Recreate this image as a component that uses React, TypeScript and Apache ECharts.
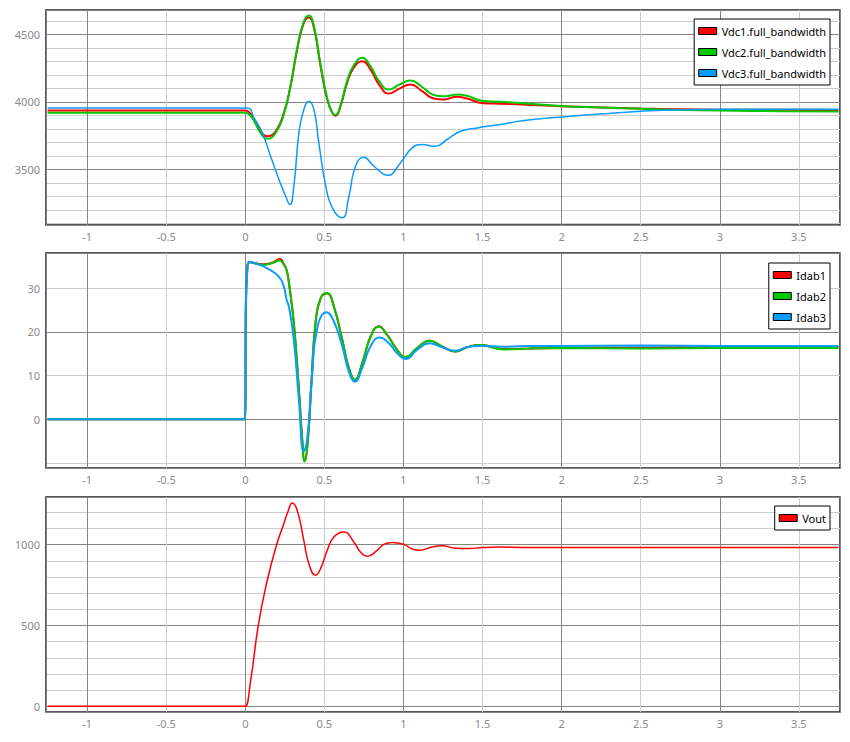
import React, { useEffect, useRef } from "react";
import * as echarts from "echarts";

const FONT = "'Noto Sans', 'DejaVu Sans', sans-serif";
const LABEL_COLOR = "#8a8a8a";
const MAJOR = "#858585";
const MINOR = "#cdcdcd";
const RED = "#ff0000";
const GREEN = "#00c800";
const BLUE = "#0a9bff";

// ---------- axes ----------
const X_MIN = -1.26;
const X_MAX = 3.76;
const xTickLabels = [-1, -0.5, 0, 0.5, 1, 1.5, 2, 2.5, 3, 3.5];
const y1TickLabels = [3500, 4000, 4500];
const y2TickLabels = [0, 10, 20, 30];
const y3TickLabels = [0, 500, 1000];

// ---------- panel 1: DC link voltages ----------
const vdcNames = ["Vdc1.full_bandwidth", "Vdc2.full_bandwidth", "Vdc3.full_bandwidth"];
const vdc12T = [-1.25, 0, 0.03, 0.055, 0.097, 0.139, 0.192, 0.244, 0.286, 0.328, 0.37, 0.402, 0.434, 0.476, 0.518, 0.55, 0.571, 0.602, 0.644, 0.686, 0.739, 0.792, 0.845, 0.908, 0.971, 1.044, 1.118, 1.192, 1.255, 1.339, 1.402, 1.503, 1.613, 1.75, 2.0, 2.25, 2.5, 2.75, 3.0, 3.4, 3.75];
const vdc1V = [3935, 3935, 3915, 3869, 3782, 3745, 3782, 3918, 4116, 4387, 4585, 4625, 4548, 4264, 4017, 3918, 3897, 3968, 4141, 4252, 4301, 4239, 4128, 4061, 4096, 4128, 4079, 4024, 4017, 4037, 4024, 3990, 3986, 3980, 3967, 3958, 3950, 3945, 3942, 3941, 3940];
const vdc2V = [3920, 3920, 3900, 3860, 3770, 3726, 3770, 3910, 4120, 4395, 4595, 4640, 4560, 4275, 4025, 3920, 3903, 3975, 4155, 4270, 4326, 4262, 4155, 4091, 4125, 4158, 4110, 4050, 4041, 4054, 4045, 4006, 4000, 3990, 3970, 3958, 3948, 3940, 3935, 3930, 3928];
const vdc3T = [-1.25, 0.01, 0.055, 0.108, 0.16, 0.213, 0.255, 0.282, 0.307, 0.339, 0.37, 0.402, 0.434, 0.465, 0.507, 0.55, 0.613, 0.655, 0.697, 0.749, 0.813, 0.901, 0.981, 1.055, 1.118, 1.202, 1.276, 1.36, 1.466, 1.613, 1.75, 2.0, 2.25, 2.5, 2.75, 3.0, 3.4, 3.75];
const vdc3V = [3955, 3955, 3881, 3770, 3597, 3425, 3301, 3239, 3375, 3770, 3943, 4004, 3943, 3696, 3387, 3215, 3141, 3301, 3523, 3590, 3523, 3456, 3548, 3659, 3684, 3671, 3721, 3782, 3807, 3832, 3860, 3888, 3911, 3930, 3942, 3946, 3945, 3945];

// ---------- panel 2: DAB currents ----------
const idabNames = ["Idab1", "Idab2", "Idab3"];
const idab12T = [-1.25, 0, 0.003, 0.012, 0.025, 0.055, 0.118, 0.171, 0.219, 0.244, 0.261, 0.276, 0.307, 0.339, 0.36, 0.375, 0.396, 0.419, 0.444, 0.476, 0.518, 0.56, 0.613, 0.655, 0.693, 0.739, 0.792, 0.844, 0.897, 0.96, 1.013, 1.086, 1.166, 1.244, 1.329, 1.402, 1.486, 1.634, 1.8, 2.0, 2.5, 3.0, 3.75];
const idab1V = [0, 0, 24, 34, 36.0, 35.8, 35.5, 35.9, 36.7, 35.5, 34.2, 31.2, 22.0, 6.7, -4.6, -9.5, -4.6, 9.0, 22.0, 27.7, 28.8, 25.8, 18.2, 11.7, 9.0, 12.8, 18.9, 21.3, 19.3, 15.9, 14.2, 16.3, 18.0, 16.7, 15.5, 16.5, 17.0, 16.1, 16.2, 16.3, 16.4, 16.5, 16.5];
const idab2V = [0, 0, 24, 34, 36.0, 35.8, 35.4, 35.8, 36.4, 35.4, 34.2, 31.2, 22.0, 6.7, -4.7, -9.7, -4.7, 9.0, 22.0, 27.7, 28.9, 25.8, 18.2, 11.7, 9.0, 12.8, 18.9, 21.2, 19.3, 15.9, 14.2, 16.3, 18.0, 16.7, 15.5, 16.5, 17.0, 16.0, 16.2, 16.3, 16.2, 16.3, 16.3];
const idab3T = [-1.25, 0, 0.003, 0.012, 0.023, 0.055, 0.139, 0.212, 0.244, 0.261, 0.276, 0.307, 0.339, 0.37, 0.391, 0.419, 0.455, 0.514, 0.56, 0.613, 0.655, 0.693, 0.739, 0.792, 0.849, 0.908, 0.96, 1.013, 1.086, 1.166, 1.244, 1.329, 1.402, 1.486, 1.634, 1.8, 2.0, 2.5, 3.0, 3.75];
const idab3V = [0, 0, 24, 34, 36.1, 35.8, 34.6, 32.7, 30.4, 27.4, 25.8, 18.2, 4.4, -7.4, -4.7, 8.3, 20.9, 24.5, 22.4, 16.7, 10.9, 8.6, 11.7, 16.7, 18.7, 17.4, 15.1, 13.8, 15.9, 17.4, 16.5, 15.7, 16.5, 16.8, 16.6, 16.8, 16.8, 16.9, 16.8, 16.8];

// ---------- panel 3: output voltage ----------
const voutName = "Vout";
const voutT = [-1.25, -0.01, 0, 0.034, 0.082, 0.139, 0.198, 0.24, 0.27, 0.297, 0.328, 0.37, 0.402, 0.444, 0.476, 0.518, 0.56, 0.623, 0.686, 0.728, 0.771, 0.834, 0.876, 0.929, 1.003, 1.05, 1.097, 1.17, 1.244, 1.33, 1.413, 1.5, 1.6, 1.75, 2.0, 2.5, 3.0, 3.75];
const voutV = [0, 0, 0, 160, 500, 780, 1000, 1120, 1205, 1258, 1213, 1027, 883, 811, 852, 965, 1048, 1079, 1017, 955, 928, 965, 1002, 1013, 1002, 976, 965, 982, 994, 978, 976, 982, 985, 983, 982, 982, 982, 982];

const zip = (t: number[], v: number[]) => t.map((x, i) => [x, v[i]]);

const gridTops = [10, 253, 497];
const GRID_H = 215;

const plainNumber = (v: number) => String(v);

function makeX(i: number) {
  return {
    type: "value",
    gridIndex: i,
    min: X_MIN,
    max: X_MAX,
    minInterval: 1,
    maxInterval: 1,
    axisLine: { show: false },
    axisTick: { show: false },
    axisLabel: {
      customValues: xTickLabels,
      formatter: plainNumber,
      color: LABEL_COLOR,
      fontSize: 11,
      fontFamily: FONT,
      margin: 6,
    },
    splitLine: { show: true, lineStyle: { color: MAJOR, width: 1 } },
    minorTick: { show: false, splitNumber: 2 },
    minorSplitLine: { show: true, lineStyle: { color: MINOR, width: 1 } },
  };
}

function makeY(i: number, min: number, max: number, major: number, minorSplit: number, labels: number[]) {
  return {
    type: "value",
    gridIndex: i,
    min,
    max,
    minInterval: major,
    maxInterval: major,
    axisLine: { show: false },
    axisTick: { show: false },
    axisLabel: {
      customValues: labels,
      formatter: plainNumber,
      color: LABEL_COLOR,
      fontSize: 11,
      fontFamily: FONT,
      margin: 6,
    },
    splitLine: { show: true, lineStyle: { color: MAJOR, width: 1 } },
    minorTick: { show: false, splitNumber: minorSplit },
    minorSplitLine: { show: true, lineStyle: { color: MINOR, width: 1 } },
  };
}

function makeLegend(names: string[], top: number) {
  return {
    data: names,
    orient: "vertical",
    right: 20,
    top,
    icon: "rect",
    itemWidth: 18,
    itemHeight: 7,
    itemGap: 7,
    selectedMode: false,
    itemStyle: { borderColor: "#000", borderWidth: 1 },
    textStyle: { color: "#000", fontSize: 11, fontFamily: FONT, lineHeight: 14 },
    borderColor: "#000",
    borderWidth: 1,
    borderRadius: 0,
    backgroundColor: "#fff",
    padding: [5, 4, 5, 4],
  };
}

function line(name: string, data: number[][], color: string, width: number, axis: number) {
  return {
    type: "line",
    name,
    data,
    xAxisIndex: axis,
    yAxisIndex: axis,
    showSymbol: false,
    symbol: "none",
    smooth: 0.5,
    color,
    lineStyle: { color, width },
    emphasis: { disabled: true },
  };
}

export default function App() {
  const ref = useRef<HTMLDivElement>(null);
  useEffect(() => {
    if (!ref.current) return;
    const chart = echarts.init(ref.current, undefined, { renderer: "svg" });
    chart.setOption({
      animation: false,
      backgroundColor: "#fff",
      grid: gridTops.map((top) => ({
        left: 46,
        right: 10,
        top,
        height: GRID_H,
        show: true,
        borderColor: "#222",
        borderWidth: 1.5,
        backgroundColor: "#fff",
      })),
      xAxis: [makeX(0), makeX(1), makeX(2)],
      yAxis: [
        makeY(0, 3088, 4680, 500, 5, y1TickLabels),
        makeY(1, -11.2, 38.1, 20, 2, y2TickLabels),
        makeY(2, -35, 1295, 500, 5, y3TickLabels),
      ],
      legend: [
        makeLegend(vdcNames, 19),
        makeLegend(idabNames, 263),
        makeLegend([voutName], 506),
      ],
      series: [
        line(vdcNames[0], zip(vdc12T, vdc1V), RED, 2, 0),
        line(vdcNames[1], zip(vdc12T, vdc2V), GREEN, 2, 0),
        line(vdcNames[2], zip(vdc3T, vdc3V), BLUE, 1.5, 0),
        line(idabNames[0], zip(idab12T, idab1V), RED, 2, 1),
        line(idabNames[1], zip(idab12T, idab2V), GREEN, 2, 1),
        line(idabNames[2], zip(idab3T, idab3V), BLUE, 2, 1),
        line(voutName, zip(voutT, voutV), RED, 1.5, 2),
      ],
    });
    return () => chart.dispose();
  }, []);
  return (
    <div
      ref={ref}
      style={{ position: "absolute", left: 0, top: 0, width: 850, height: 742 }}
    />
  );
}
